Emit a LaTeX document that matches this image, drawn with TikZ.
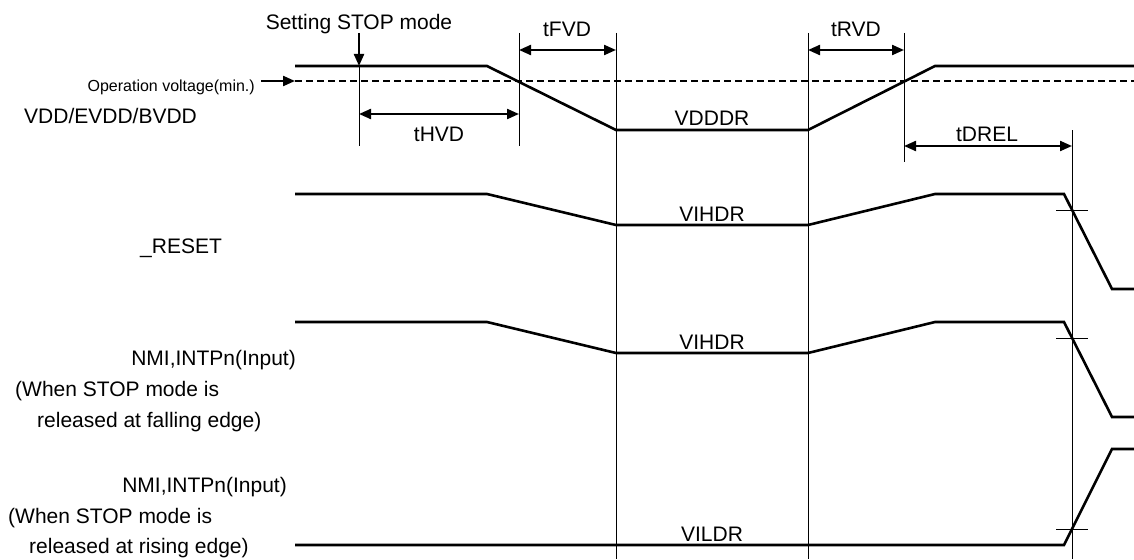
\documentclass[tikz,border=0pt]{standalone}
\usepackage{fontspec}
\setmainfont{Liberation Sans}
\usetikzlibrary{arrows.meta,calc}
\tikzstyle{sig}=[line width=2.6pt,line join=miter]
\tikzstyle{guide}=[line width=1pt]
\tikzstyle{vmin}=[line width=2.2pt,dash pattern=on 7pt off 4pt]
\tikzstyle{dim}=[line width=2.2pt,{Triangle[length=12pt,width=10pt]}-{Triangle[length=12pt,width=10pt]}]
\tikzstyle{pointer}=[line width=2.2pt,-{Triangle[length=12pt,width=10pt]}]
\tikzstyle{lbl}=[font=\fontsize{21}{25}\selectfont,inner sep=0pt]
\tikzstyle{small lbl}=[font=\fontsize{16}{19}\selectfont,inner sep=0pt]

\begin{document}
\begin{tikzpicture}[x=1pt,y=-1pt]
\useasboundingbox (0,0) rectangle (1134,559);

% % % % % % % % % % % % % % %

\pgfmathsetmacro{\crosshalf}{16}

% time marks
\coordinate (S) at (359,66);
\coordinate (H) at (519,33);
\coordinate (F) at (616,33);
\coordinate (R) at (808,33);
\coordinate (V) at (904,33);
\coordinate (D) at (1072,130);

\draw[guide] (S) -- ++(0,80);
\draw[guide] (H) -- ++(0,113);
\draw[guide] (F) -- (616,559);
\draw[guide] (R) -- (808,559);
\draw[guide] (V) -- ++(0,129);
\draw[guide] (D) -- (1072,559);

% supply
\draw[sig] (295,66) -- (487,66) -- (616,130) -- (808,130) -- (935,66) -- (1134,66);
\draw[vmin] (295,81) -- (1134,81);
\node[small lbl,anchor=base east] (opv) at (255,92) {Operation voltage(min.)};
\draw[pointer] (opv.east |- 0,81) ++(6,0) coordinate (O) -- (295,81);
\node[lbl,anchor=base] (stop) at (359,30) {Setting STOP mode};
\draw[pointer] (359,33) -- (S);
\node[lbl,anchor=base west] (vdd) at (24,124) {VDD/EVDD/BVDD};

\draw[dim] (359,114) -- (519,114);
\node[lbl,anchor=base] (thvd) at (439,142) {tHVD};
\draw[dim] (519,50) -- (616,50);
\node[lbl,anchor=base] (tfvd) at (567,37) {tFVD};
\draw[dim] (808,50) -- (904,50);
\node[lbl,anchor=base] (trvd) at (856,37) {tRVD};
\draw[dim] (904,146) -- (1072,146);
\node[lbl,anchor=base] (tdrel) at (987,141) {tDREL};
\node[lbl,anchor=base] (vdddr) at (712,125) {VDDDR};

% reset and falling edge input
\foreach \hi/\lo/\fin in {194/225/289,322/353/417} {
\draw[sig] (295,\hi) -- (487,\hi) -- (616,\lo) -- (808,\lo) -- (935,\hi) -- (1064,\hi) -- (1112,\fin) -- (1134,\fin);
\draw[guide] (1072-\crosshalf,\hi+16) -- (1072+\crosshalf,\hi+16);
}
\node[lbl,anchor=base] (vihdra) at (712,221) {VIHDR};
\node[lbl,anchor=base] (vihdrb) at (712,349) {VIHDR};

% rising edge input
\draw[sig] (295,545) -- (1064,545) -- (1112,449) -- (1134,449);
\draw[guide] (1072-\crosshalf,529) -- (1072+\crosshalf,529);
\node[lbl,anchor=base] (vildr) at (712,541) {VILDR};

% signal names
\node[lbl,anchor=base west] (rst) at (140,253) {\_RESET};
\node[lbl,anchor=base east] (nmia) at (296,365) {NMI,INTPn(Input)};
\node[lbl,anchor=base west] (nmiaw) at (15,396) {(When STOP mode is};
\node[lbl,anchor=base west] (nmiar) at (37,427) {released at falling edge)};
\node[lbl,anchor=base east] (nmib) at (287,492) {NMI,INTPn(Input)};
\node[lbl,anchor=base west] (nmibw) at (8,523) {(When STOP mode is};
\node[lbl,anchor=base west] (nmibr) at (29,553) {released at rising edge)};

\end{tikzpicture}
\end{document}
